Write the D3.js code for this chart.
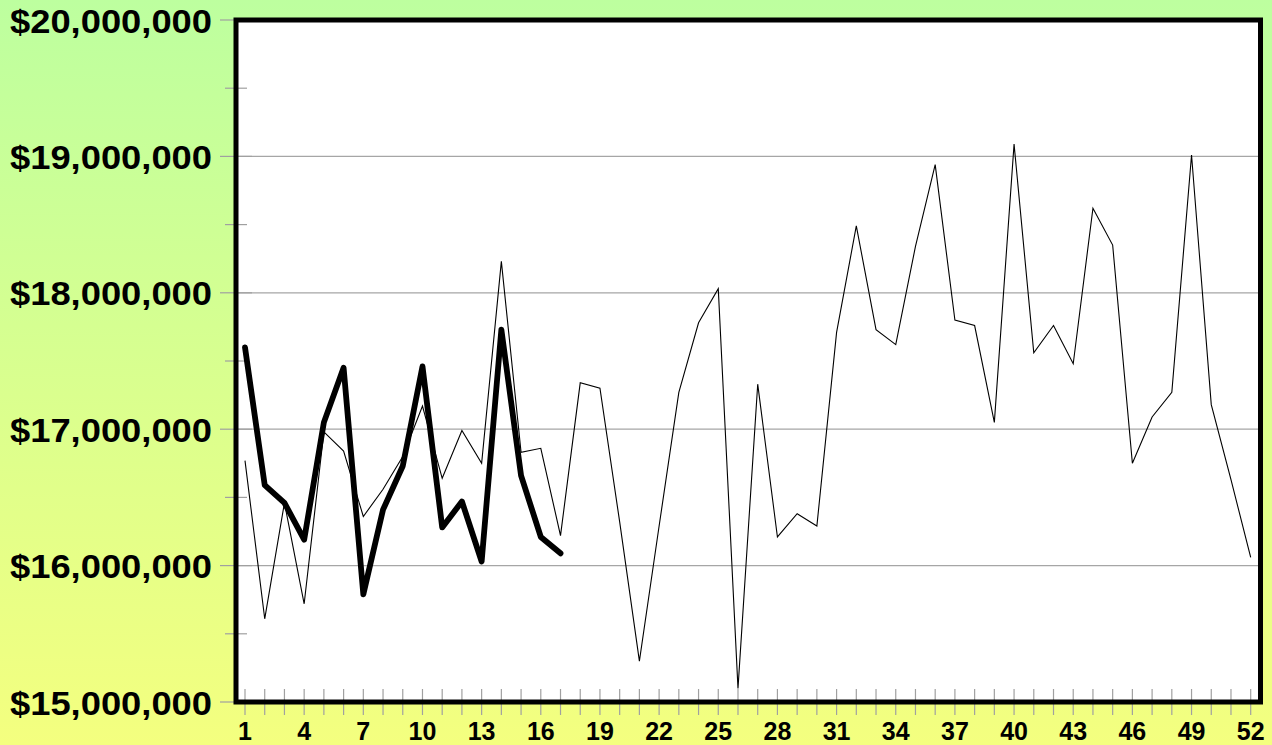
<!DOCTYPE html>
<html>
<head>
<meta charset="utf-8">
<script src="https://cdn.jsdelivr.net/npm/d3@7"></script>
<style>
  html, body { margin: 0; padding: 0; overflow: hidden; }
  svg { display: block; }
</style>
</head>
<body>
<svg id="chart" width="1272" height="745"></svg>
<script>
// ---- data ----
const weeks = [1,2,3,4,5,6,7,8,9,10,11,12,13,14,15,16,17,18,19,20,21,22,23,24,25,26,
               27,28,29,30,31,32,33,34,35,36,37,38,39,40,41,42,43,44,45,46,47,48,49,50,51,52];
const previousYear = [16770000,15610000,16460000,15720000,16980000,16840000,16360000,16560000,16800000,17170000,
                      16640000,16990000,16750000,18230000,16830000,16860000,16220000,17340000,17300000,16320000,
                      15300000,16290000,17270000,17780000,18030000,15100000,17330000,16210000,16380000,16290000,
                      17710000,18490000,17730000,17620000,18340000,18940000,17800000,17760000,17050000,19090000,
                      17560000,17760000,17480000,18620000,18350000,16750000,17090000,17270000,19010000,17180000,
                      16630000,16060000];
const currentYear = [17600000,16590000,16460000,16190000,17050000,17450000,15790000,16410000,16730000,17460000,
                     16280000,16470000,16030000,17730000,16660000,16210000,16090000];
const yMajorTicks = [15000000,16000000,17000000,18000000,19000000,20000000];
const yMinorTicks = [15500000,16500000,17500000,18500000,19500000];
const xLabelWeeks = [1,4,7,10,13,16,19,22,25,28,31,34,37,40,43,46,49,52];

// ---- layout ----
const W = 1272, H = 745;
const frame = {left: 236, right: 1260.5, top: 20, bottom: 702};
const svg = d3.select("#chart");

const defs = svg.append("defs");
const grad = defs.append("linearGradient").attr("id","bg").attr("x1",0).attr("y1",0).attr("x2",0).attr("y2",1);
grad.append("stop").attr("offset","0%").attr("stop-color","#bdff9f");
grad.append("stop").attr("offset","100%").attr("stop-color","#f4ff7f");
svg.append("rect").attr("width",W).attr("height",H).attr("fill","url(#bg)");

const x = d3.scaleLinear().domain([1,52]).range([245,1250.7]);
const y = d3.scaleLinear().domain([15000000,20000000]).range([frame.bottom, frame.top]);

// plot background
svg.append("rect")
  .attr("x",frame.left).attr("y",frame.top)
  .attr("width",frame.right-frame.left).attr("height",frame.bottom-frame.top)
  .attr("fill","#ffffff");

// gridlines
svg.append("g").selectAll("line")
  .data(yMajorTicks.filter(v => v > 15000000 && v < 20000000))
  .join("line")
  .attr("x1",frame.left).attr("x2",frame.right)
  .attr("y1",d=>y(d)).attr("y2",d=>y(d))
  .attr("stroke","#a6a6a6").attr("stroke-width",1.2);

// y ticks
svg.append("g").selectAll("line")
  .data(yMajorTicks).join("line")
  .attr("x1",220).attr("x2",252)
  .attr("y1",d=>y(d)).attr("y2",d=>y(d))
  .attr("stroke","#a0a0a0").attr("stroke-width",1.2);
svg.append("g").selectAll("line")
  .data(yMinorTicks).join("line")
  .attr("x1",225).attr("x2",247)
  .attr("y1",d=>y(d)).attr("y2",d=>y(d))
  .attr("stroke","#a0a0a0").attr("stroke-width",1.2);

// x ticks
svg.append("g").selectAll("line")
  .data(weeks).join("line")
  .attr("x1",d=>x(d)).attr("x2",d=>x(d))
  .attr("y1",689).attr("y2",715)
  .attr("stroke","#a0a0a0").attr("stroke-width",1.2);

// lines
const line = d3.line().x((d,i)=>x(weeks[i])).y(d=>y(d));
svg.append("path").datum(previousYear)
  .attr("d",line).attr("fill","none")
  .attr("stroke","#000").attr("stroke-width",1.1).attr("stroke-linejoin","miter");
svg.append("path").datum(currentYear)
  .attr("d",line).attr("fill","none")
  .attr("stroke","#000").attr("stroke-width",5.8).attr("stroke-linejoin","round").attr("stroke-linecap","round");

// frame
svg.append("rect")
  .attr("x",frame.left).attr("y",frame.top)
  .attr("width",frame.right-frame.left).attr("height",frame.bottom-frame.top)
  .attr("fill","none").attr("stroke","#000").attr("stroke-width",5);

// y labels
const fmt = d3.format("$,");
svg.append("g").selectAll("text")
  .data(yMajorTicks).join("text")
  .attr("x",212).attr("y",d=>y(d)+12.5)
  .attr("text-anchor","end")
  .attr("font-family","'Liberation Sans', Arial, sans-serif")
  .attr("font-weight","bold").attr("font-size",33)
  .attr("textLength",202).attr("lengthAdjust","spacingAndGlyphs")
  .attr("fill","#000")
  .text(d=>fmt(d));

// x labels
svg.append("g").selectAll("text")
  .data(xLabelWeeks).join("text")
  .attr("x",d=>x(d)).attr("y",739.5)
  .attr("text-anchor","middle")
  .attr("font-family","'Liberation Sans', Arial, sans-serif")
  .attr("font-weight","bold").attr("font-size",25)
  .attr("fill","#000")
  .text(d=>d);
</script>
</body>
</html>
